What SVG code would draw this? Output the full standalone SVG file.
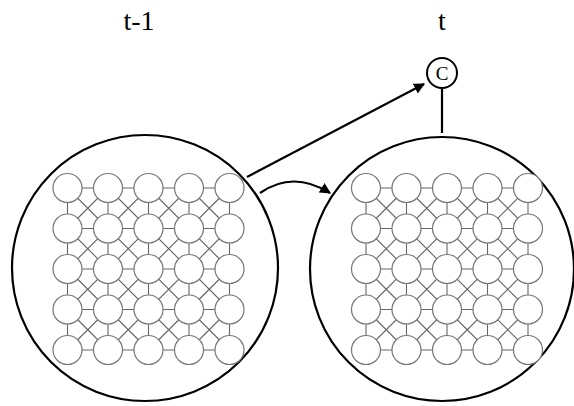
<svg xmlns="http://www.w3.org/2000/svg" xmlns:xlink="http://www.w3.org/1999/xlink" width="574" height="406" viewBox="0 0 574 406">
<style>
.big{fill:#fff;stroke:#000;stroke-width:2.2}
.gl{fill:none;stroke:#666;stroke-width:1.1}
.gc{fill:#fff;stroke:#777;stroke-width:1.2}
.lbl{font-family:"Liberation Serif","Times New Roman",serif;font-size:28px;fill:#000;text-anchor:middle}
.edge{fill:none;stroke:#000;stroke-width:2.2}
</style>
<defs>
<marker id="ah" viewBox="0 0 10 10" refX="9" refY="5" markerWidth="5" markerHeight="5" orient="auto" markerUnits="strokeWidth">
<path d="M0,0L10,5L0,10z" fill="#000"/>
</marker>
<g id="grid">
<path class="gl" d="M0,0H162M0,40.5H162M0,81H162M0,121.5H162M0,162H162M0,0V162M40.5,0V162M81,0V162M121.5,0V162M162,0V162M0,0L162,162M40.5,0L162,121.5M81,0L162,81M121.5,0L162,40.5M0,40.5L121.5,162M0,81L81,162M0,121.5L40.5,162M162,0L0,162M121.5,0L0,121.5M81,0L0,81M40.5,0L0,40.5M162,40.5L40.5,162M162,81L81,162M162,121.5L121.5,162"/>
<g class="gc">
<circle cx="0" cy="0" r="14.5"/><circle cx="40.5" cy="0" r="14.5"/><circle cx="81" cy="0" r="14.5"/><circle cx="121.5" cy="0" r="14.5"/><circle cx="162" cy="0" r="14.5"/>
<circle cx="0" cy="40.5" r="14.5"/><circle cx="40.5" cy="40.5" r="14.5"/><circle cx="81" cy="40.5" r="14.5"/><circle cx="121.5" cy="40.5" r="14.5"/><circle cx="162" cy="40.5" r="14.5"/>
<circle cx="0" cy="81" r="14.5"/><circle cx="40.5" cy="81" r="14.5"/><circle cx="81" cy="81" r="14.5"/><circle cx="121.5" cy="81" r="14.5"/><circle cx="162" cy="81" r="14.5"/>
<circle cx="0" cy="121.5" r="14.5"/><circle cx="40.5" cy="121.5" r="14.5"/><circle cx="81" cy="121.5" r="14.5"/><circle cx="121.5" cy="121.5" r="14.5"/><circle cx="162" cy="121.5" r="14.5"/>
<circle cx="0" cy="162" r="14.5"/><circle cx="40.5" cy="162" r="14.5"/><circle cx="81" cy="162" r="14.5"/><circle cx="121.5" cy="162" r="14.5"/><circle cx="162" cy="162" r="14.5"/>
</g>
</g>
</defs>
<rect width="574" height="406" fill="#fff"/>
<text class="lbl" x="139" y="30">t-1</text>
<text class="lbl" x="442" y="30">t</text>
<g id="connectors">
<line class="edge" x1="442" y1="89" x2="442" y2="133"/>
<line class="edge" x1="247" y1="177" x2="424" y2="84" marker-end="url(#ah)"/>
<path class="edge" d="M260,193Q293,170 330,193" marker-end="url(#ah)"/>
</g>
<g id="layer-t-1">
<circle class="big" cx="145" cy="268" r="133"/>
<use xlink:href="#grid" href="#grid" x="67.5" y="188"/>
</g>
<g id="layer-t">
<circle class="big" cx="442" cy="269" r="132"/>
<use xlink:href="#grid" href="#grid" x="366" y="188"/>
</g>
<g id="node-c">
<circle cx="442" cy="73" r="15" fill="#fff" stroke="#000" stroke-width="2"/>
<text x="442" y="80" font-family="Liberation Serif, Times New Roman, serif" font-size="19" text-anchor="middle">C</text>
</g>
</svg>
